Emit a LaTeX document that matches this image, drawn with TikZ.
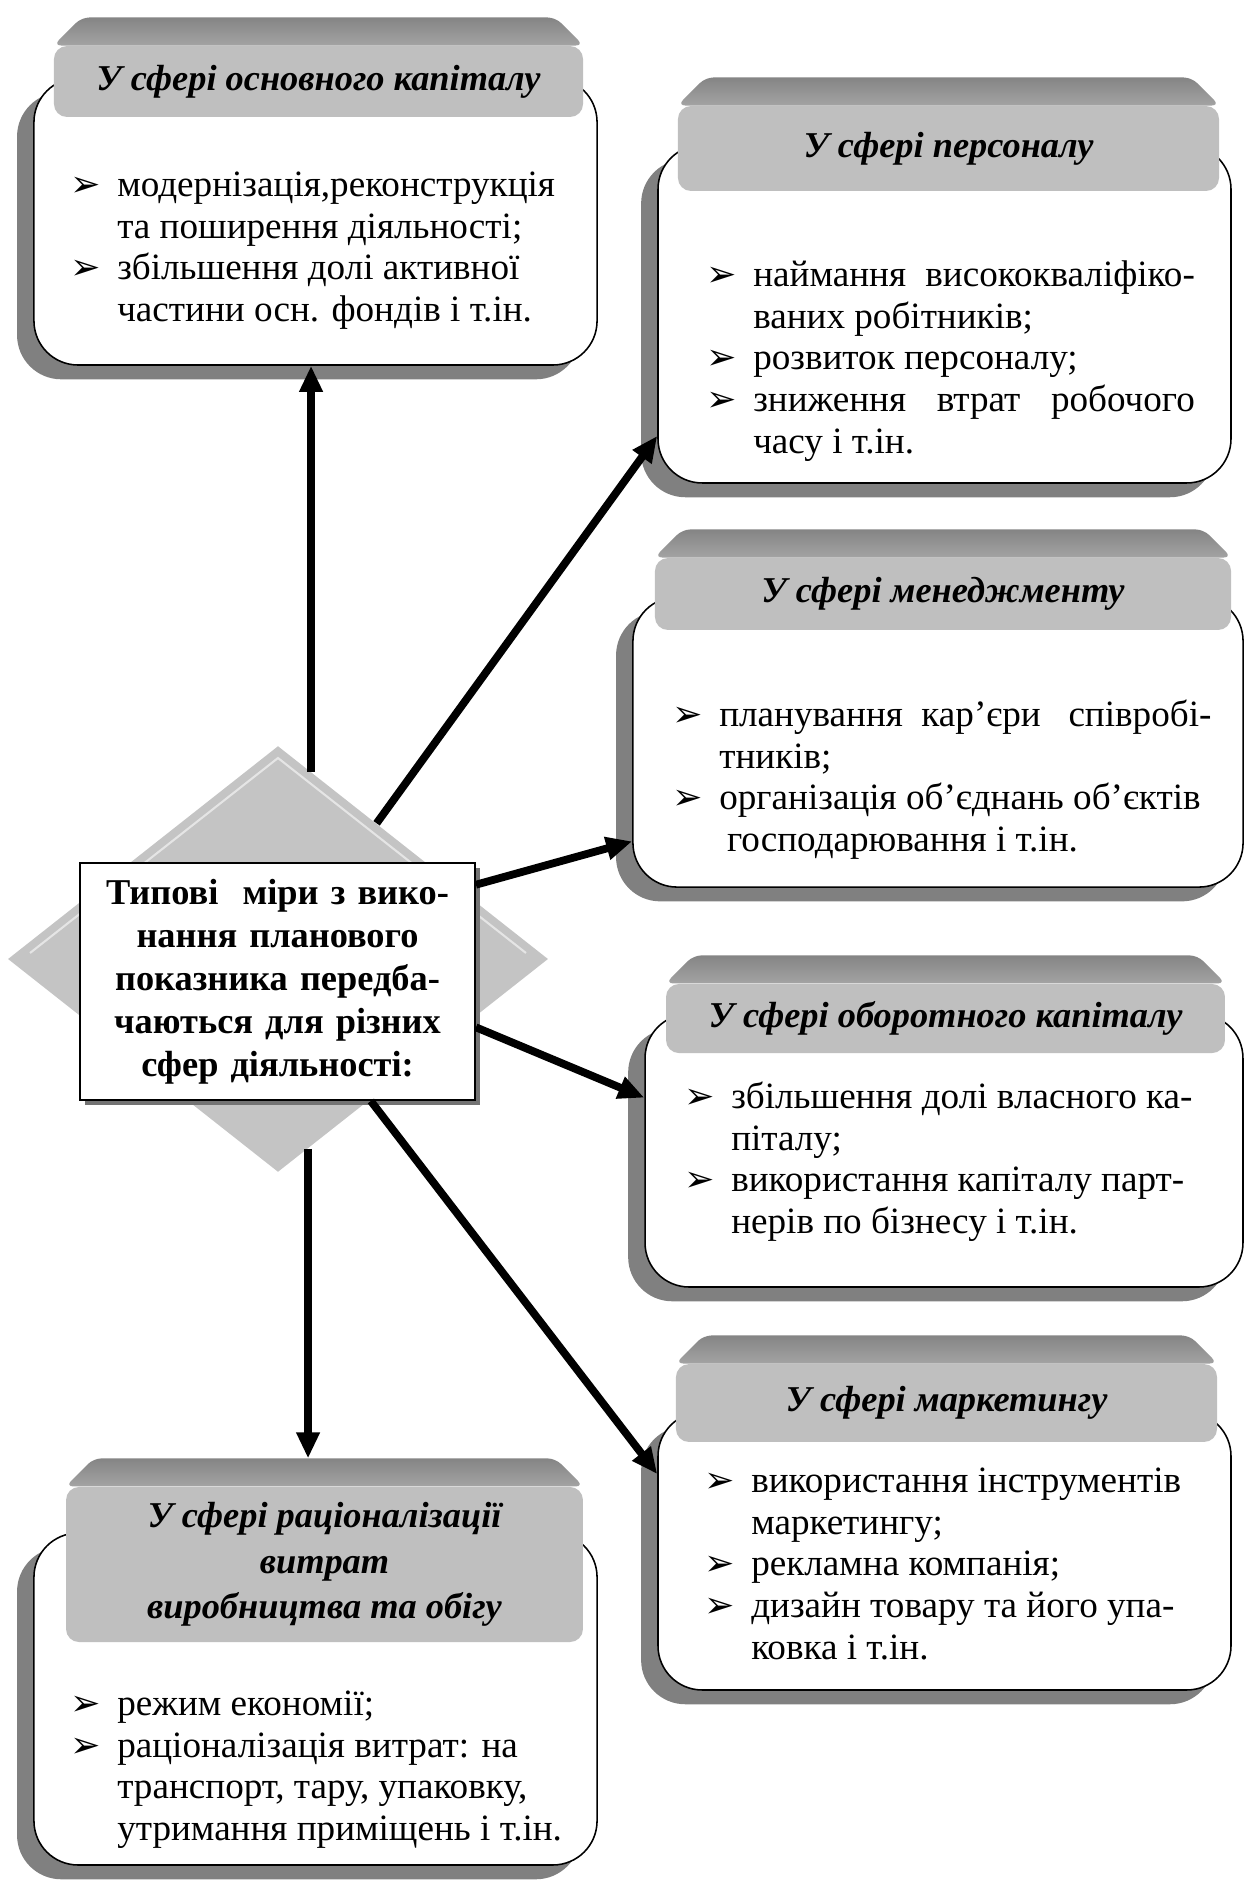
\documentclass[tikz,border=0pt]{standalone}
\usepackage{fontspec}
\setmainfont{Liberation Serif}
\newfontfamily\dingfont{DejaVu Sans}
\usetikzlibrary{shapes.geometric,arrows.meta,shadows}

% bullet item with hanging indent
\newcommand{\itm}{\par\noindent\hangindent=18pt\hangafter=1\strut
  \makebox[18pt][l]{\dingfont\fontsize{14}{14}\selectfont ➢}}

\begin{document}
\begin{tikzpicture}[x=0.385pt,y=-0.385pt]
  \tikzstyle{box}=[rectangle,draw=black,line width=0.6pt,fill=white,rounded corners=17pt,
    drop shadow={shadow xshift=-6.5pt,shadow yshift=-5.5pt,opacity=1,fill=black!50}]
  \tikzstyle{hdr}=[rectangle,fill=black!25,rounded corners=5pt,inner sep=0pt,
    font=\fontsize{14}{17.5}\selectfont\bfseries\itshape]
  \tikzstyle{txt}=[anchor=north west,inner sep=0pt,align=justify,
    font=\fontsize{14.3}{16.1}\selectfont]
  \tikzstyle{arr}=[line width=3pt,-{Triangle[length=10pt,width=8.5pt]}]
  \useasboundingbox (0,0) rectangle (1248,1892);

  % centre
  \node[diamond,fill=black!23,minimum width=208pt,minimum height=164pt,inner sep=0pt] (dmd) at (278,959) {};
  \draw[black!10,line width=0.8pt] (30,953) -- (278,758) -- (526,953);
  \node[rectangle,draw,line width=0.8pt,fill=white,minimum width=152pt,minimum height=91.2pt,
    text width=148pt,align=center,inner sep=0pt,font=\fontsize{14}{16.6}\selectfont\bfseries,
    drop shadow={shadow xshift=2pt,shadow yshift=-2pt,opacity=1,fill=black!55}] (mid) at (277.5,981.5)
    {Типові\ \ міри з вико-\\нання планового\\показника передба-\\чаються для різних\\сфер діяльності:};

  % boxes
  \node[box,minimum width=216.8pt,minimum height=110.5pt] (b1) at (315.5,221.5) {};
  \node[box,minimum width=220.6pt,minimum height=130.1pt] (b2) at (944.5,314) {};
  \node[box,minimum width=234.9pt,minimum height=111.7pt] (b3) at (938,742) {};
  \node[box,minimum width=230.2pt,minimum height=105.1pt] (b4) at (944,1150.5) {};
  \node[box,minimum width=220.6pt,minimum height=107pt] (b5) at (944.5,1551) {};
  \node[box,minimum width=216.8pt,minimum height=127.8pt] (b6) at (315.5,1699) {};

  % headers
  \node[hdr,minimum width=203.7pt,minimum height=27.3pt] (h1) at (318.5,81.5) {У сфері основного капіталу};
  \node[hdr,minimum width=208.3pt,minimum height=32.7pt] (h2) at (948.5,148.5) {У сфері персоналу};
  \node[hdr,minimum width=221.8pt,minimum height=27.7pt] (h3) at (943,594) {У сфері менеджменту};
  \node[hdr,minimum width=215.2pt,minimum height=26.6pt] (h4) at (945.5,1018.5) {У сфері оборотного капіталу};
  \node[hdr,minimum width=208.3pt,minimum height=30pt] (h5) at (946.5,1403) {У сфері маркетингу};
  \node[hdr,align=center,minimum width=199pt,minimum height=59.7pt] (h6) at (324.5,1564.5)
    {У сфері раціоналізації\\витрат\\виробництва та обігу};
  \foreach \h in {h1,h2,h3,h4,h5,h6}
    \shade[top color=black!48,bottom color=black!36,rounded corners=3pt] (\h.north west)
      -- ([xshift=10.8pt,yshift=10.8pt]\h.north west)
      -- ([xshift=-10.8pt,yshift=10.8pt]\h.north east) -- (\h.north east) -- cycle;
  \coordinate (t6) at ([yshift=10.8pt]h6.north);

  % lists
  \node[txt,text width=198pt] at (70,154) {\itm модернізація,реконструкція\\та поширення діяльності;%
    \itm збільшення долі активної\\частини осн. фондів і т.ін.\par};
  \node[txt,text width=188pt] at (706,244) {\itm наймання висококваліфіко-\linebreak ваних робітників;%
    \itm розвиток персоналу;\itm зниження втрат робочого\linebreak часу і т.ін.\par};
  \node[txt,text width=207.5pt] at (672,684) {\itm планування\ \ кар’єри\ \ \ співробі-\linebreak тників;%
    \itm організація об’єднань об’єктів\\\hspace*{3pt}господарювання і т.ін.\par};
  \node[txt,text width=208pt] at (684,1066) {\itm збільшення долі власного ка-\\піталу;%
    \itm використання капіталу парт-\\нерів по бізнесу і т.ін.\par};
  \node[txt,text width=198pt] at (704,1450) {\itm використання інструментів\\маркетингу;%
    \itm рекламна компанія;\itm дизайн товару та його упа-\\ковка і т.ін.\par};
  \node[txt,text width=203pt] at (70,1673) {\itm режим економії;%
    \itm раціоналізація витрат: на\\транспорт, тару, упаковку,\\утримання приміщень і т.ін.\par};

  % arrows
  \draw[arr] (dmd.80) -- (dmd.80 |- b1.south);
  \draw[arr] (dmd.54) -- (b2.203);
  \draw[arr] (mid.26) -- (b3.198);
  \draw[arr] (mid.-13) -- (b4.170);
  \draw[arr] (mid.-52) -- (b5.165);
  \draw[arr] (dmd.-81) -- (dmd.-81 |- t6);
\end{tikzpicture}
\end{document}
